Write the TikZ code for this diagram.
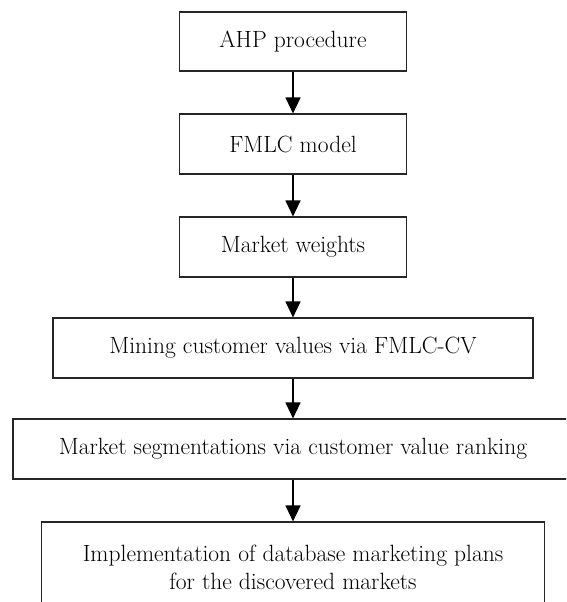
\documentclass[tikz,border=0pt]{standalone}
\usetikzlibrary{arrows.meta}
\begin{document}
\begin{tikzpicture}[x=1pt,y=-1pt,
  box/.style={draw=black!85, line width=1.1pt, inner sep=0pt, align=center,
              font=\fontsize{23.5}{28}\selectfont},
  arr/.style={-{Triangle[width=15pt,length=16pt]}, line width=1.1pt, black}]
\useasboundingbox (0,0) rectangle (566,602);
\clip (0,0) rectangle (566,602);
\node[box, minimum width=227pt, minimum height=59pt] (n1) at (293,41.5) {AHP procedure};
\node[box, minimum width=227pt, minimum height=60pt] (n2) at (293,144) {FMLC model};
\node[box, minimum width=227pt, minimum height=60pt] (n3) at (293,247) {Market weights};
\node[box, minimum width=480pt, minimum height=60pt] (n4) at (293,348) {Mining customer values via FMLC-CV};
\node[box, minimum width=560pt, minimum height=60pt] (n5) at (293,449) {Market segmentations via customer value ranking};
\node[box, minimum width=503pt, minimum height=90pt] (n6) at (293,567) {Implementation of database marketing plans\\for the discovered markets};
\draw[arr] (n1.south) -- (n2.north);
\draw[arr] (n2.south) -- (n3.north);
\draw[arr] (n3.south) -- (n4.north);
\draw[arr] (n4.south) -- (n5.north);
\draw[arr] (n5.south) -- (n6.north);
\end{tikzpicture}
\end{document}
